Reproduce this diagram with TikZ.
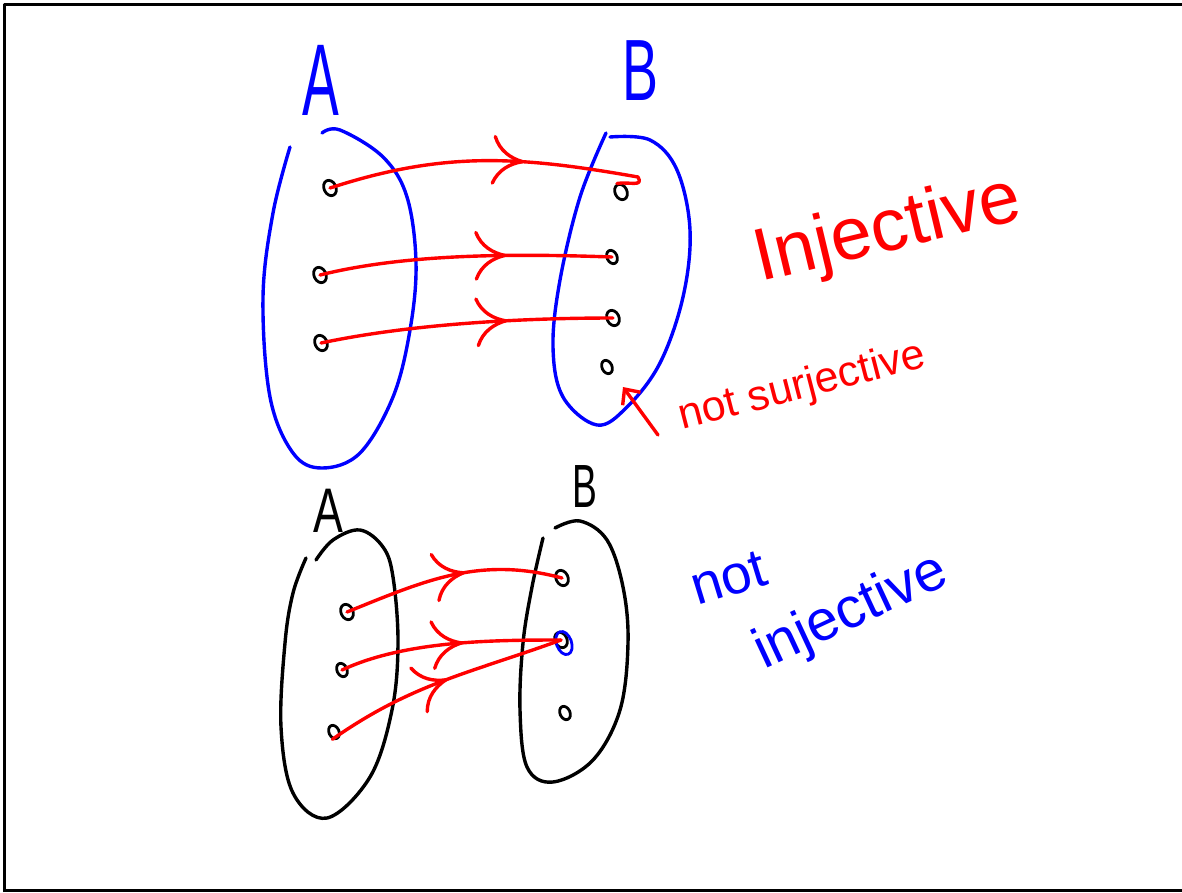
\documentclass[tikz,border=0pt]{standalone}
\usepackage{fontspec}
\setmainfont{Liberation Sans}
\usetikzlibrary{arrows.meta,decorations.markings,shapes.geometric}
\definecolor{penred}{RGB}{255,0,0}
\definecolor{penblue}{RGB}{0,0,255}
\begin{document}
\begin{tikzpicture}[x=1pt,y=-1pt, line cap=round, line join=round,
  pen/.style={line width=3.4pt},
  dotnode/.style={draw=black, line width=2.8pt, ellipse, inner sep=0pt, minimum width=12pt, minimum height=16pt, rotate=25},
  smalldot/.style={dotnode, minimum width=10pt, minimum height=14pt},
  mapline/.style={draw=penred, line width=3.4pt, postaction={decorate},
    decoration={markings, mark=at position #1 with {\arrow[penred, line width=3.4pt]{Computer Modern Rightarrow[length=32pt,width=50pt]}}}},
  handtext/.style={inner sep=0pt, anchor=base west},
  letter/.style={inner sep=0pt, anchor=base}
]
\useasboundingbox (0,0) rectangle (1182,892);
% frame
\draw[line width=2.8pt, line cap=butt] (4.2,892) -- (4.2,4.5) -- (1182,4.5);
\draw[line width=2.8pt, line cap=butt] (4.2,890.5) -- (1182,890.5);

% ---- top diagram (injective) ----
\node[letter, penblue, font=\fontsize{102}{102}\selectfont, xscale=0.54] (lA1) at (321,115) {A};
\node[letter, penblue, font=\fontsize{87}{87}\selectfont, xscale=0.62] (lB1) at (640,100) {B};

\draw[pen, penblue] plot[smooth, tension=0.6] coordinates {(322,133) (340,130) (383,157) (407,197) (416,263) (410,330) (393,397) (360,453) (322,468) (293,453) (270,397) (263,297) (273,213) (290,147)};
\draw[pen, penblue] plot[smooth, tension=0.6] coordinates {(610,137) (650,140) (677,170) (690,230) (683,297) (660,363) (627,407) (597,425) (563,397) (553,347) (560,280) (580,197) (606,133)};

\node[dotnode] (a1) at (330,188) {};
\node[dotnode] (a2) at (320,275) {};
\node[dotnode] (a3) at (321,343) {};
\node[dotnode] (b1) at (621,192) {};
\node[smalldot] (b2) at (612,257) {};
\node[dotnode] (b3) at (613,318) {};
\node[smalldot] (b4) at (607,367) {};

\coordinate (b1h) at (638,177);
\draw[mapline=0.58] (a1.center) to[out=18,in=170] (b1h) to[out=-60,in=10,looseness=1.4] (b1.north);
\draw[mapline=0.64] (a2.center) to[out=14,in=178,looseness=0.8] (b2.center);
\draw[mapline=0.64] (a3.center) to[out=12,in=180,looseness=0.8] (b3.center);

\node[handtext, penred, font=\fontsize{74}{74}\selectfont, rotate=13.5] (inj) at (760,282) {Injective};
\node[handtext, penred, font=\fontsize{43}{43}\selectfont, rotate=14.5] (ns) at (682,430) {not surjective};
\coordinate (ns1) at (658,435);
\coordinate (ns2) at (623,387);
\draw[pen, penred, -{Straight Barb[length=12pt,width=22pt]}] (ns1) -- (ns2);

% ---- bottom diagram (not injective) ----
\node[letter, black, font=\fontsize{63}{63}\selectfont, xscale=0.71] (lA2) at (328,532) {A};
\node[letter, black, font=\fontsize{61}{61}\selectfont, xscale=0.61] (lB2) at (585,507) {B};

\draw[pen, black] plot[smooth, tension=0.6] coordinates {(316,560) (333,540) (360,530) (383,547) (393,577) (398,643) (392,710) (370,777) (327,818) (293,793) (281,727) (285,643) (293,593) (306,558)};
\draw[pen, black] plot[smooth, tension=0.6] coordinates {(555,528) (580,521) (607,540) (623,587) (628,643) (620,710) (593,760) (553,782) (527,767) (520,710) (523,643) (532,587) (543,538)};

\node[dotnode] (c1) at (347,612) {};
\node[smalldot] (c2) at (342,670) {};
\node[smalldot] (c3) at (334,732) {};
\node[dotnode] (d1) at (562,578) {};
\node[dotnode] (d2) at (561,640) {};
\node[smalldot] (d3) at (565,713) {};
\node[draw=penblue, line width=2.8pt, ellipse, inner sep=0pt, minimum width=15pt, minimum height=24pt, rotate=20] (d2b) at (564,643) {};

\draw[mapline=0.56] (c1.center) to[out=22,in=165] (d1.center);
\draw[mapline=0.56] (c2.center) to[out=25,in=180,looseness=0.8] (d2.center);
\draw[mapline=0.52] (c3.south west) to[out=35,in=200] (d2.center);

\node[handtext, penblue, font=\fontsize{55}{55}\selectfont, rotate=17] (ni1) at (697,606) {not};
\node[handtext, penblue, font=\fontsize{57}{57}\selectfont, rotate=25] (ni2) at (764,670) {injective};
\end{tikzpicture}
\end{document}
